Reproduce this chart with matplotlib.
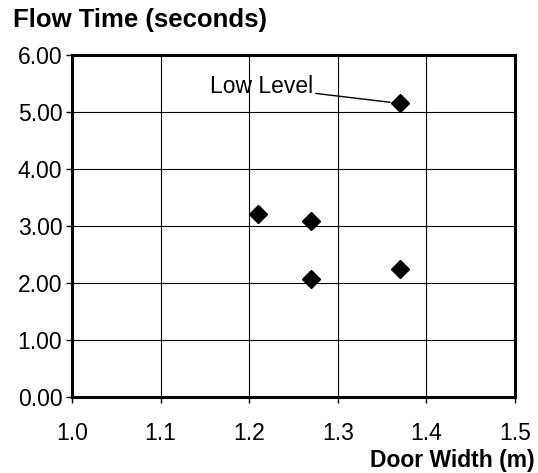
import matplotlib
matplotlib.use("Agg")
import matplotlib.pyplot as plt

plt.rcParams['font.family'] = ['Liberation Sans', 'DejaVu Sans']

# door width (m) vs flow time (s)
door_width = [1.21, 1.27, 1.27, 1.37, 1.37]
flow_time = [3.21, 3.08, 2.07, 2.25, 5.15]
x_ticks = [1.0, 1.1, 1.2, 1.3, 1.4, 1.5]
y_ticks = [0.0, 1.0, 2.0, 3.0, 4.0, 5.0, 6.0]

fig = plt.figure(figsize=(5.38, 4.73), dpi=100)
ax = fig.add_axes([0.1338, 0.1607, 0.8234, 0.7230])

ax.plot(door_width, flow_time, linestyle='none', marker='D', ms=9.5,
        color='black', zorder=3, clip_on=False)

ax.set_xlim(1.0, 1.5)
ax.set_ylim(0, 6)
ax.set_xticks(x_ticks)
ax.set_yticks(y_ticks)
ax.set_xticklabels([f"{v:.1f}" for v in x_ticks])
ax.set_yticklabels([f"{v:.2f}" for v in y_ticks])

ax.grid(True, color='black', lw=0.8)
ax.set_axisbelow(True)
for s in ax.spines.values():
    s.set_linewidth(2.2)
ax.tick_params(axis='both', direction='out', length=4, width=1, labelsize=16.5)
ax.tick_params(axis='x', pad=14)
ax.tick_params(axis='y', pad=3)

ax.annotate('Low Level', xy=(door_width[4], flow_time[4]), xytext=(1.272, 5.44),
            ha='right', va='center', fontsize=16.5,
            arrowprops=dict(arrowstyle='-', lw=1, color='black',
                            shrinkA=0, shrinkB=7))

fig.text(13 / 538, 1 - 20 / 473, 'Flow Time (seconds)', ha='left', va='center',
         fontsize=18.5, fontweight='bold')
ax.set_xlabel('Door Width (m)', fontsize=16.5, fontweight='bold', ha='right', va='center')
ax.xaxis.set_label_coords(1.045, -0.187)

fig.savefig('out.png', dpi=100)
